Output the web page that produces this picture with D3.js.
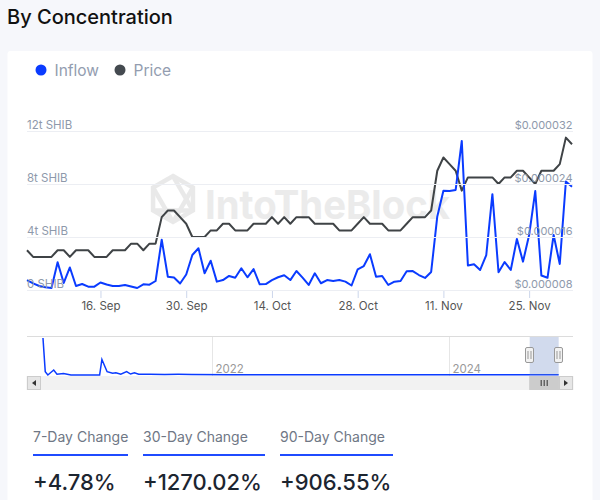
<!DOCTYPE html>
<html><head><meta charset="utf-8">
<script src="https://cdn.jsdelivr.net/npm/d3@7"></script>
<style>
body{margin:0;background:#f6f7fb;}
svg{display:block;font-family:Inter,"Noto Sans",sans-serif;}
</style>
</head><body>
<svg id="c" width="600" height="500"></svg>
<script>
// ---------- DATA ----------
const startDay = "2024-09-04";
const endDay = "2024-12-02";
// Inflow, trillions of SHIB, one value per day
const inflow = [0.75,0.5,0.3,0.2,0.15,2.1,0.53,1.7,0.3,0.45,
  0.25,0.25,0.57,0.42,0.3,0.3,0.38,0.26,0.15,0.43,
  0.4,0.68,3.8,1.0,0.94,0.49,1.17,2.64,3.15,1.26,
  2.21,0.63,0.75,1.06,0.93,1.64,0.96,1.58,0.43,0.45,
  0.75,0.96,1.11,0.75,1.43,0.93,0.38,1.26,0.51,0.75,
  0.68,0.75,0.63,0.34,1.56,1.81,2.7,1.0,1.06,0.38,
  0.63,0.68,1.41,1.43,1.13,0.91,1.36,5.55,7.49,7.47,
  7.55,11.25,1.85,1.95,1.51,2.64,7.23,1.34,2.11,1.51,
  3.85,2.14,4.15,7.47,1.09,0.92,4.15,1.96,8.19,7.8];
// Price, USD
const price = [0.000014,0.000013,0.000013,0.000013,0.000013,0.000014,0.000014,0.000013,0.000014,0.000014,
  0.000014,0.000013,0.000013,0.000013,0.000014,0.000014,0.000014,0.000015,0.000015,0.000014,
  0.000015,0.000015,0.000019,0.000020,0.000020,0.000019,0.000018,0.000016,0.000016,0.000016,
  0.000017,0.000017,0.000018,0.000018,0.000017,0.000017,0.000017,0.000018,0.000018,0.000018,
  0.000019,0.000018,0.000019,0.000018,0.000019,0.000019,0.000019,0.000018,0.000018,0.000018,
  0.000018,0.000017,0.000017,0.000017,0.000018,0.000019,0.000018,0.000018,0.000018,0.000017,
  0.000017,0.000017,0.000018,0.000019,0.000019,0.000019,0.000020,0.000026,0.000028,0.000027,
  0.000026,0.000023,0.000025,0.000025,0.000025,0.000025,0.000025,0.000024,0.000025,0.000025,
  0.000026,0.000026,0.000025,0.000024,0.000026,0.000026,0.000026,0.000027,0.000031,0.000030];
const leftTicks = [0, 4, 8, 12];
const leftTickLabels = ["0 SHIB", "4t SHIB", "8t SHIB", "12t SHIB"];
const rightTicks = [0.000008, 0.000016, 0.000024, 0.000032];
const rightTickLabels = ["$0.000008", "$0.000016", "$0.000024", "$0.000032"];
const xTickDays = ["2024-09-16", "2024-09-30", "2024-10-14", "2024-10-28", "2024-11-11", "2024-11-25"];
// Navigator: full-history inflow (approximate, relative units)
const navDays = ["2020-08-01","2020-08-08","2020-08-16","2020-09-03","2020-09-13","2020-10-03","2020-10-26",
  "2021-01-22","2021-01-29","2021-02-14","2021-03-03","2021-03-13","2021-03-28","2021-04-15","2021-04-27",
  "2021-05-09","2021-05-22","2021-06-26","2021-08-10","2021-09-20","2021-11-01","2022-03-01","2022-07-01",
  "2022-11-01","2023-03-01","2023-07-01","2023-11-01","2024-03-01","2024-07-01","2024-12-02"];
const navValues = [50,4.5,0,6.7,1,2,0,
  0,21,4.5,2.5,3,1,4.5,1.3,
  3,1,1,0.8,0.9,0.6,0.4,0.5,
  0.3,0.4,0.3,0.3,0.5,0.3,0.4];
const navYears = ["2022", "2024"];
const changeLabels = ["7-Day Change", "30-Day Change", "90-Day Change"];
const changeValues = ["+4.78%", "+1270.02%", "+906.55%"];
const seriesNames = ["Inflow", "Price"];

// ---------- DRAW ----------
const parse = d3.timeParse("%Y-%m-%d");
const days = d3.timeDay.range(parse(startDay), d3.timeDay.offset(parse(endDay), 1));
const svg = d3.select("#c");
const BLUE = "#0a3bff", GREY = "#3f4346";

svg.append("rect").attr("x",0).attr("y",0).attr("width",600).attr("height",500).attr("fill","#f6f7fb");
svg.append("text").attr("x",7).attr("y",23.5).attr("font-size",20).attr("font-weight",500)
  .attr("fill","#111").text("By Concentration");
svg.append("rect").attr("x",7.5).attr("y",51).attr("width",585).attr("height",470).attr("rx",3).attr("fill","#fff");

// legend
const legend = [{name:seriesNames[0],color:BLUE,x:41},{name:seriesNames[1],color:"#444a50",x:120}];
legend.forEach(l=>{
  svg.append("circle").attr("cx",l.x).attr("cy",70).attr("r",5.5).attr("fill",l.color);
  svg.append("text").attr("x",l.x+13.5).attr("y",75.5).attr("font-size",15.5).attr("fill","#939db0").text(l.name);
});

const x = d3.scaleTime().domain([days[0], days[days.length-1]]).range([27, 572]);
const yL = d3.scaleLinear().domain([0,12]).range([290,131]);
const yR = d3.scaleLinear().domain([0.000008,0.000032]).range([290,131]);

// gridlines + left labels
const gL = svg.append("g").attr("transform","translate(27,0)")
  .call(d3.axisLeft(yL).tickValues(leftTicks).tickSize(-546).tickFormat((d,i)=>leftTickLabels[i]));
gL.select(".domain").remove();
gL.selectAll("line").attr("stroke","#eceef3");

// watermark
const wm = svg.append("g").attr("opacity",0.85);
const cx=173, cy=199, R=23;
const hex = d3.range(6).map(i=>[cx+R*Math.cos(Math.PI/3*i-Math.PI/2), cy+R*Math.sin(Math.PI/3*i-Math.PI/2)]);
wm.append("path").attr("d","M"+hex.map(p=>p.join(",")).join("L")+"Z").attr("fill","none").attr("stroke","#e6e6e6").attr("stroke-width",4.5);
[[1,3],[3,5],[0,2],[2,4]].forEach(([a,b])=>{
  wm.append("line").attr("x1",hex[a][0]).attr("y1",hex[a][1]).attr("x2",hex[b][0]).attr("y2",hex[b][1])
    .attr("stroke","#e6e6e6").attr("stroke-width",4.5);
});
wm.append("text").attr("x",205).attr("y",219).attr("font-size",40).attr("font-weight",700)
  .attr("fill","#e8e8e8").attr("textLength",245).attr("lengthAdjust","spacingAndGlyphs").text("IntoTheBlock");

// x axis
const gx = svg.append("g").attr("transform","translate(0,290)")
  .call(d3.axisBottom(x).tickValues(xTickDays.map(parse)).tickFormat(d3.timeFormat("%-d. %b")).tickSize(8).tickPadding(4).tickSizeOuter(0));
gx.select(".domain").attr("stroke","#ccd6eb");
gx.selectAll("line").attr("stroke","#ccd6eb");
gx.selectAll("text").attr("font-size",11.5).attr("fill","#555").attr("font-family","Inter,sans-serif");

// lines
const priceLine = d3.line().x((d,i)=>x(days[i])).y(d=>yR(d));
const inflowLine = d3.line().x((d,i)=>x(days[i])).y(d=>yL(d));
svg.append("path").attr("d",priceLine(price)).attr("fill","none").attr("stroke",GREY).attr("stroke-width",2).attr("stroke-linejoin","round");
svg.append("path").attr("d",inflowLine(inflow)).attr("fill","none").attr("stroke",BLUE).attr("stroke-width",2).attr("stroke-linejoin","round");

// left labels on top
gL.selectAll("text").attr("x",0).attr("dy",0).attr("y",-3).attr("text-anchor","start")
  .attr("font-size",11.5).attr("fill","#8e99ab").attr("font-family","Inter,sans-serif");
gL.raise();
// right labels
const gR = svg.append("g").attr("transform","translate(572.5,0)")
  .call(d3.axisRight(yR).tickValues(rightTicks).tickSize(0).tickFormat((d,i)=>rightTickLabels[i]));
gR.select(".domain").remove();
gR.selectAll("text").attr("x",0).attr("dy",0).attr("y",-3).attr("text-anchor","end")
  .attr("font-size",11).attr("fill","#8e99ab").attr("font-family","Inter,sans-serif");

// ---------- NAVIGATOR ----------
const navX = d3.scaleTime().domain([parse("2020-06-16"), parse("2025-01-15")]).range([28,573]);
const navY = d3.scaleLinear().domain([0,50]).range([375,338]);
svg.append("line").attr("x1",27).attr("x2",573).attr("y1",336.5).attr("y2",336.5).attr("stroke","#dcdcdc");
navYears.forEach(yr=>{
  const xx = Math.round(navX(parse(yr+"-01-01")))+0.5;
  svg.append("line").attr("x1",xx).attr("x2",xx).attr("y1",337).attr("y2",376).attr("stroke","#e6e6e6");
  svg.append("text").attr("x",xx+3).attr("y",373).attr("font-size",11.5).attr("fill","#999").text(yr);
});
const navLine = d3.line().x((d,i)=>navX(parse(navDays[i]))).y(d=>navY(d));
svg.append("path").attr("d",navLine(navValues)).attr("fill","none").attr("stroke",BLUE).attr("stroke-width",1.5);
const s0 = navX(days[0]), s1 = navX(days[days.length-1]);
svg.append("rect").attr("x",s0).attr("y",337).attr("width",s1-s0).attr("height",38).attr("fill","rgba(102,133,194,0.3)");
[s0,s1].forEach(hx=>{
  svg.append("rect").attr("x",Math.round(hx)-4.5).attr("y",347.5).attr("width",8).attr("height",15).attr("rx",1.5)
    .attr("fill","#f2f2f2").attr("stroke","#999");
  [-1.5,1.5].forEach(o=>svg.append("line").attr("x1",Math.round(hx)+o-0.5).attr("x2",Math.round(hx)+o-0.5)
    .attr("y1",351).attr("y2",359).attr("stroke","#999"));
});
// scrollbar
svg.append("rect").attr("x",27).attr("y",376.5).attr("width",546).attr("height",13).attr("fill","#f2f2f2").attr("stroke","#f2f2f2");
svg.append("rect").attr("x",27.5).attr("y",376.5).attr("width",13).attr("height",13).attr("fill","#e6e6e6").attr("stroke","#ccc");
svg.append("path").attr("d","M36,380 L36,386 L32,383 Z").attr("fill","#333");
svg.append("rect").attr("x",s0).attr("y",376.5).attr("width",s1-s0).attr("height",13).attr("fill","#ccc").attr("stroke","#ccc");
[-3,0,3].forEach(o=>svg.append("line").attr("x1",(s0+s1)/2+o).attr("x2",(s0+s1)/2+o).attr("y1",380).attr("y2",386).attr("stroke","#333"));
svg.append("rect").attr("x",559.5).attr("y",376.5).attr("width",13).attr("height",13).attr("fill","#e6e6e6").attr("stroke","#ccc");
svg.append("path").attr("d","M564,380 L564,386 L568,383 Z").attr("fill","#333");

// ---------- CHANGE STATS ----------
const colX = [33,143,280], colW = [95,122,113];
changeLabels.forEach((lab,i)=>{
  svg.append("text").attr("x",colX[i]).attr("y",442).attr("font-size",14).attr("fill","#6f7785").text(lab);
  svg.append("line").attr("x1",colX[i]).attr("x2",colX[i]+colW[i]).attr("y1",455).attr("y2",455)
    .attr("stroke","#1f4bff").attr("stroke-width",2);
  svg.append("text").attr("x",colX[i]).attr("y",490).attr("font-size",22).attr("font-weight",500)
    .attr("fill","#1c2530").text(changeValues[i]);
});
</script>
</body></html>
